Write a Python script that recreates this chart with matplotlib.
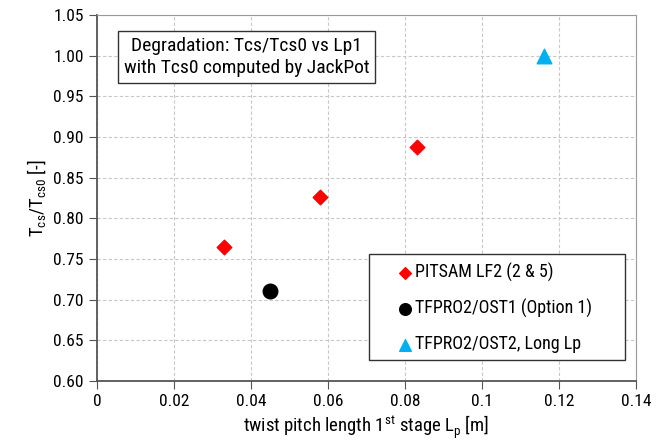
import matplotlib.pyplot as plt
from matplotlib.patches import Rectangle

FONT = "Roboto Condensed"
plt.rcParams["font.family"] = [FONT, "Liberation Sans", "DejaVu Sans"]
plt.rcParams["mathtext.fontset"] = "custom"
plt.rcParams["mathtext.rm"] = FONT

# data
pitsam_x = [0.033, 0.058, 0.083]
pitsam_y = [0.765, 0.826, 0.888]
ost1_x = [0.045]
ost1_y = [0.711]
ost2_x = [0.116]
ost2_y = [1.0]

x_ticks = [0, 0.02, 0.04, 0.06, 0.08, 0.1, 0.12, 0.14]
x_labels = ["0", "0.02", "0.04", "0.06", "0.08", "0.1", "0.12", "0.14"]
y_ticks = [0.60, 0.65, 0.70, 0.75, 0.80, 0.85, 0.90, 0.95, 1.00, 1.05]

fig = plt.figure(figsize=(6.67, 4.45), dpi=100)
ax = fig.add_axes([0.1454, 0.1438, 0.8081, 0.8225])

ax.scatter(pitsam_x, pitsam_y, marker="D", s=55, color="#FF0000",
           label="PITSAM LF2 (2 & 5)", zorder=3)
ax.scatter(ost1_x, ost1_y, marker="o", s=110, color="black",
           label="TFPRO2/OST1 (Option 1)", zorder=3)
ax.scatter(ost2_x, ost2_y, marker="^", s=110, color="#00B0F0",
           label="TFPRO2/OST2, Long Lp", zorder=3)

ax.set_xlim(0, 0.14)
ax.set_ylim(0.60, 1.05)
ax.set_xticks(x_ticks)
ax.set_xticklabels(x_labels)
ax.set_yticks(y_ticks)
ax.set_yticklabels([f"{v:.2f}" for v in y_ticks])
ax.tick_params(labelsize=12.5, direction="out", length=6, color="#555555")
ax.grid(True, linestyle=(0, (3, 2)), color="#c8c8c8", linewidth=0.8)
ax.set_axisbelow(True)

for side in ["left", "bottom"]:
    ax.spines[side].set_color("#555555")
    ax.spines[side].set_linewidth(1.3)
for side in ["top", "right"]:
    ax.spines[side].set_color("#999999")

ax.set_xlabel("twist pitch length 1$^{\\rm st}$ stage L$_{\\rm p}$ [m]", fontsize=13.5,
              labelpad=3)
ax.set_ylabel("T$_{\\rm cs}$/T$_{\\rm cs0}$ [-]", fontsize=13.5)

ax.text(0.278, 0.885, "Degradation: Tcs/Tcs0 vs Lp1\nwith Tcs0 computed by JackPot",
        transform=ax.transAxes, ha="center", va="center", fontsize=14,
        linespacing=1.3,
        bbox=dict(boxstyle="square,pad=0.3", facecolor="white",
                  edgecolor="#333333", linewidth=1.0))

# legend frame drawn separately so the padding can be wider than tall
ax.add_patch(Rectangle((0.5046, 0.0574), 0.475, 0.2896, transform=ax.transAxes,
                       facecolor="white", edgecolor="#333333", linewidth=1.0,
                       zorder=4))
leg = ax.legend(loc="center left", bbox_to_anchor=(0.5566, 0.1995),
                fontsize=13, frameon=False, handletextpad=0.1,
                labelspacing=0.95, borderpad=0, borderaxespad=0,
                markerscale=0.8, handlelength=0.9)
leg.set_zorder(5)

fig.savefig("out.png", dpi=100)
